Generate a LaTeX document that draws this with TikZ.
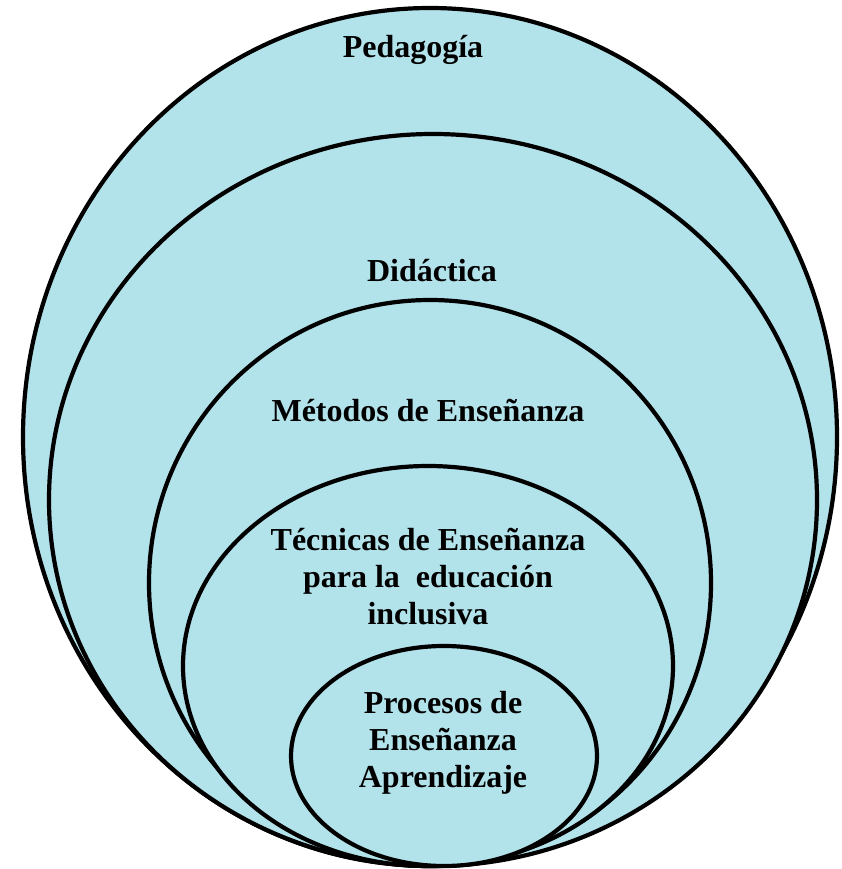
\documentclass[tikz,border=0pt]{standalone}
\usepackage{fontspec}
\setmainfont{Liberation Serif}
\definecolor{water}{HTML}{B2E2EA}
\tikzset{
  ring/.style={draw=black, line width=4.2pt, fill=water},
  lbl/.style={font=\fontsize{32}{37}\selectfont\bfseries, align=center, inner sep=0pt}
}
\begin{document}
\begin{tikzpicture}[x=1pt,y=-1pt]
\useasboundingbox (0,0) rectangle (841,869);
\draw[ring] (430,437) ellipse [x radius=407, y radius=429];
\draw[ring] (433,500) ellipse [x radius=384, y radius=366];
\draw[ring] (430,583) ellipse [x radius=281, y radius=283];
\draw[ring] (428,666) ellipse [x radius=245, y radius=200];
\draw[ring] (444,756) ellipse [x radius=153, y radius=110];
\node[lbl] (ped) at (413,50) {Pedagogía};
\node[lbl] (did) at (432,271) {Didáctica};
\node[lbl] (met) at (428,411) {Métodos de Enseñanza};
\node[lbl] (tec) at (428,577) {Técnicas de Enseñanza\\para la\ \ educación\\inclusiva};
\node[lbl] (pro) at (443,743) {Procesos de\\Enseñanza\\Aprendizaje};
\end{tikzpicture}
\end{document}
